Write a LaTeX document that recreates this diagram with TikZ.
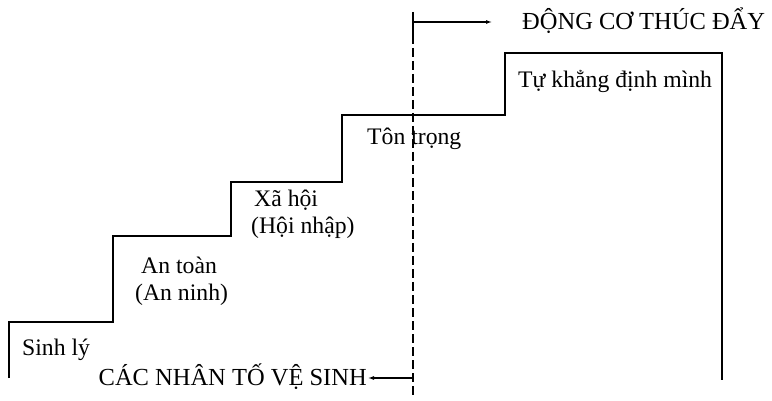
\documentclass[tikz,border=0pt]{standalone}
\usepackage{fontspec}
\setmainfont{Liberation Serif}
\usetikzlibrary{arrows.meta,positioning}

\begin{document}
\begin{tikzpicture}[x=1pt,y=-1pt,
    steplabel/.style={font=\fontsize{23.7}{27}\selectfont,inner sep=0pt},
    capslabel/.style={font=\fontsize{24.5}{28}\selectfont,inner sep=0pt},
    stair/.style={line width=1.6pt,line join=miter}]
    \useasboundingbox (0,0) rectangle (772,401);
    % the five steps
    \draw[stair] (9,378) -- (9,322) -- (113,322) -- (113,236) -- (231,236)
        -- (231,182) -- (342,182) -- (342,115) -- (505,115) -- (505,53)
        -- (722,53) -- (722,380);
    \node[steplabel,anchor=base west] (sinhly) at (22,355) {Sinh lý};
    \node[steplabel,anchor=base west] (antoan) at (141,273) {An toàn};
    \node[steplabel,anchor=base west] (anninh) at (135,300) {(An ninh)};
    \node[steplabel,anchor=base west] (xahoi) at (254,207) {Xã hội};
    \node[steplabel,anchor=base west] (hoinhap) at (251,234) {(Hội nhập)};
    \node[steplabel,anchor=base west] (tontrong) at (367,145) {Tôn trọng};
    \node[steplabel,anchor=base west] (tukhang) at (518,88) {Tự khẳng định mình};
    % divider between the two groups
    \coordinate (divtop) at (413,12);
    \coordinate (divmid) at (413,35);
    \coordinate (divbot) at (413,398);
    \draw[line width=1.2pt] (divtop) -- (divmid);
    \draw[line width=1.2pt,dash pattern=on 9pt off 4pt] (divmid) -- (divbot);
    \node[capslabel,anchor=base west] (motiv) at (522,30) {ĐỘNG CƠ THÚC ĐẨY};
    \node[capslabel,anchor=base east] (hygiene) at (367,385) {CÁC NHÂN TỐ VỆ SINH};
    \coordinate (motivfrom) at (413,22);
    \coordinate (hygfrom) at (413,378);
    \draw[-{Latex[length=6pt,width=4pt]},line width=1.1pt,shorten >=30pt]
        (motivfrom) -- (motivfrom -| motiv.west);
    \draw[-{Latex[length=6pt,width=4pt]},line width=1.1pt,shorten >=1pt]
        (hygfrom) -- (hygfrom -| hygiene.east);
\end{tikzpicture}
\end{document}
